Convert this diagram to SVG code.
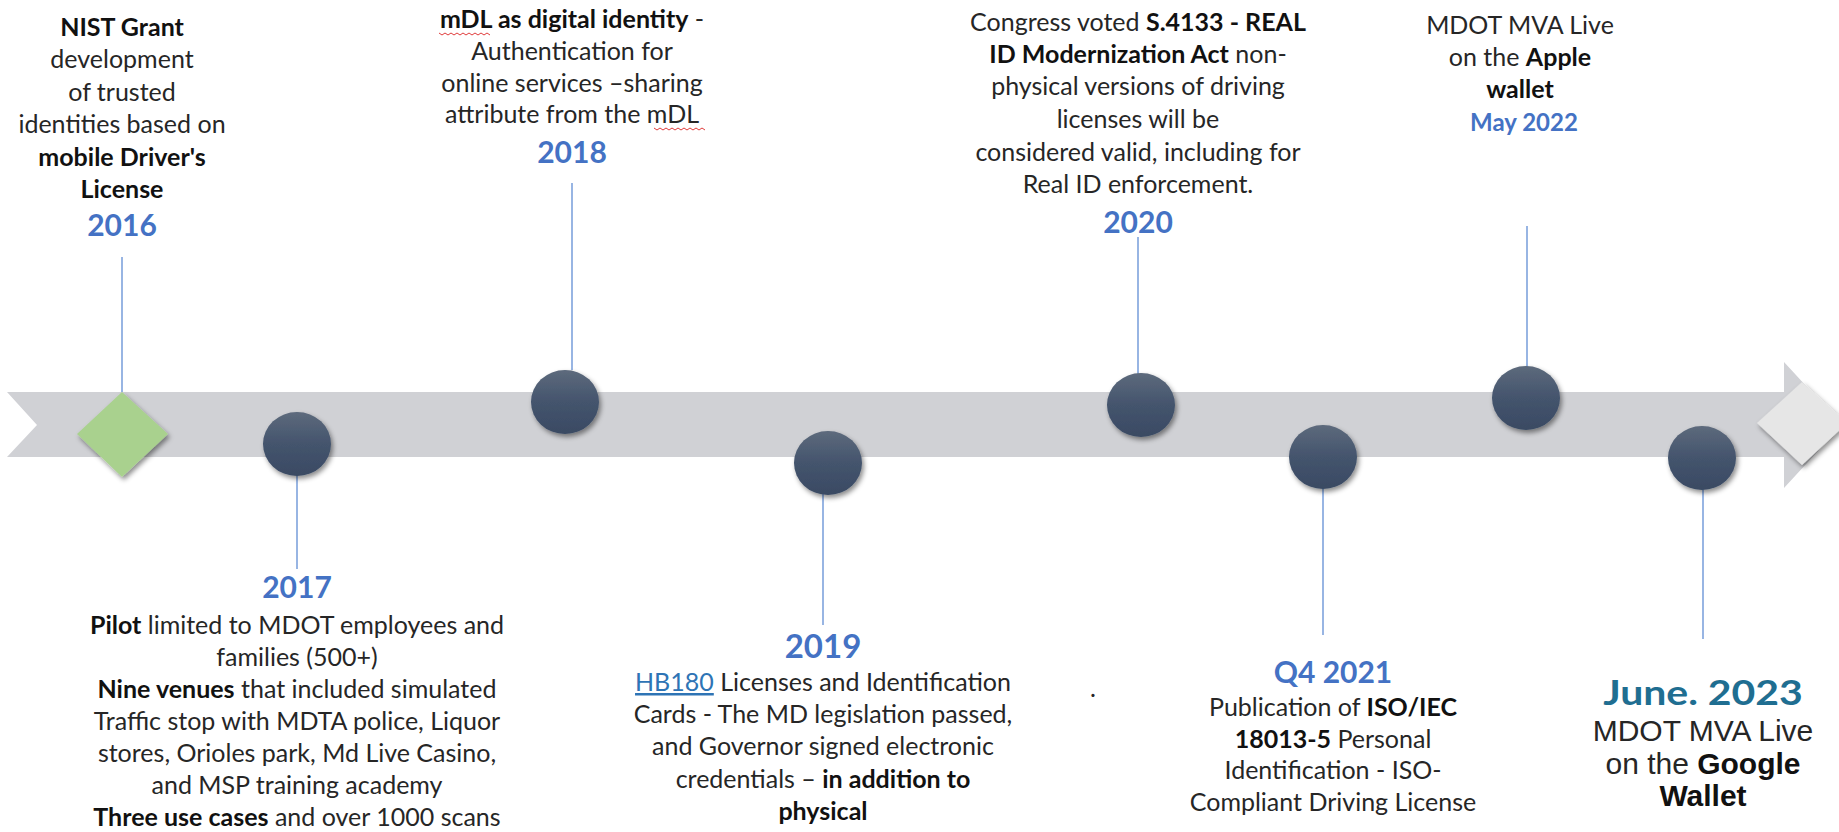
<svg xmlns="http://www.w3.org/2000/svg" width="1839" height="832" viewBox="0 0 1839 832">
<defs>
<linearGradient id="ball" x1="0" y1="0" x2="0" y2="1">
<stop offset="0" stop-color="#5D6A7C"/>
<stop offset="0.5" stop-color="#44546D"/>
<stop offset="1" stop-color="#3A4A63"/>
</linearGradient>
<filter id="sh" x="-30%" y="-30%" width="170%" height="170%">
<feDropShadow dx="2" dy="3" stdDeviation="2.5" flood-color="#000" flood-opacity="0.45"/>
</filter>
</defs>
<style>
.band{fill:#D0D1D5}
.ball{fill:url(#ball);filter:url(#sh)}
.conn{stroke:#86A8DE;stroke-width:1.7;fill:none}
.t{font-family:Lato,"Open Sans",sans-serif;font-size:25px;fill:#262626;text-anchor:middle}
.b{font-weight:bold;fill:#111}
.yr{font-family:Lato,"Open Sans",sans-serif;font-size:30px;font-weight:bold;fill:#4472C4;text-anchor:middle}
.a{font-family:"Liberation Sans",Arial,sans-serif;font-size:30px;fill:#262626;text-anchor:middle}
.sq{stroke:#E03C3C;stroke-width:1;fill:none}
</style>
<rect width="1839" height="832" fill="#FFFFFF"/>
<g id="band">
<polygon class="band" points="7,392 1784,392 1784,362 1842,425 1784,488 1784,457 7,457 37,425"/>
</g>
<g id="connectors">
<line class="conn" x1="122" y1="257" x2="122" y2="392"/>
<line class="conn" x1="572" y1="183" x2="572" y2="370"/>
<line class="conn" x1="1138" y1="237" x2="1138" y2="376"/>
<line class="conn" x1="1527" y1="226" x2="1527" y2="368"/>
<line class="conn" x1="297" y1="470" x2="297" y2="569"/>
<line class="conn" x1="823" y1="488" x2="823" y2="625"/>
<line class="conn" x1="1323" y1="482" x2="1323" y2="635"/>
<line class="conn" x1="1703" y1="486" x2="1703" y2="639"/>
</g>
<g id="node-2016">
<polygon points="122,392 168,434 122,477 77,434" fill="#A9D18E" filter="url(#sh)"/>
<text class="t"><tspan class="b" x="122" y="36">NIST Grant</tspan><tspan x="122" y="68">development</tspan><tspan x="122" y="101">of trusted</tspan><tspan x="122" y="133">identities based on</tspan><tspan class="b" x="122" y="166">mobile Driver's</tspan><tspan class="b" x="122" y="198">License</tspan></text>
<text class="yr" x="122" y="236">2016</text>
</g>
<g id="node-2017">
<ellipse class="ball" cx="297" cy="444" rx="34" ry="32"/>
<text class="yr" x="297" y="598">2017</text>
<text class="t"><tspan x="297" y="634"><tspan class="b">Pilot</tspan> limited to MDOT employees and</tspan><tspan x="297" y="666">families (500+)</tspan><tspan x="297" y="698"><tspan class="b">Nine venues</tspan> that included simulated</tspan><tspan x="297" y="730">Traffic stop with MDTA police, Liquor</tspan><tspan x="297" y="762">stores, Orioles park, Md Live Casino,</tspan><tspan x="297" y="794">and MSP training academy</tspan><tspan x="297" y="826"><tspan class="b">Three use cases</tspan> and over 1000 scans</tspan></text>
</g>
<g id="node-2018">
<ellipse class="ball" cx="565" cy="402" rx="34" ry="32"/>
<text class="t"><tspan x="572" y="28"><tspan class="b">mDL as digital identity</tspan> -</tspan><tspan x="572" y="60">Authentication for</tspan><tspan x="572" y="92">online services –sharing</tspan><tspan x="572" y="123">attribute from the mDL</tspan></text>
<path class="sq" d="M439,33 l3,2 l3,-2 l3,2 l3,-2 l3,2 l3,-2 l3,2 l3,-2 l3,2 l3,-2 l3,2 l3,-2 l3,2 l3,-2 l3,2 l3,-2 l3,2"/>
<path class="sq" d="M654,128 l3,2 l3,-2 l3,2 l3,-2 l3,2 l3,-2 l3,2 l3,-2 l3,2 l3,-2 l3,2 l3,-2 l3,2 l3,-2 l3,2 l3,-2 l3,2"/>
<text class="yr" x="572" y="163">2018</text>
</g>
<g id="node-2019">
<ellipse class="ball" cx="828" cy="463" rx="34" ry="32"/>
<text class="yr" x="823" y="658" style="font-size:33px">2019</text>
<text class="t"><tspan x="823" y="691"><tspan fill="#2E74B5" text-decoration="underline">HB180</tspan> Licenses and Identification</tspan><tspan x="823" y="723">Cards - The MD legislation passed,</tspan><tspan x="823" y="755">and Governor signed electronic</tspan><tspan x="823" y="788">credentials – <tspan class="b">in addition to</tspan></tspan><tspan class="b" x="823" y="820">physical</tspan></text>
<text class="t" x="1093" y="697" fill="#555">.</text>
</g>
<g id="node-2020">
<ellipse class="ball" cx="1141" cy="405" rx="34" ry="32"/>
<text class="t"><tspan x="1138" y="31">Congress voted <tspan class="b">S.4133 - REAL</tspan></tspan><tspan x="1138" y="63"><tspan class="b">ID Modernization Act</tspan> non-</tspan><tspan x="1138" y="95">physical versions of driving</tspan><tspan x="1138" y="128">licenses will be</tspan><tspan x="1138" y="161">considered valid, including for</tspan><tspan x="1138" y="193">Real ID enforcement.</tspan></text>
<text class="yr" x="1138" y="233">2020</text>
</g>
<g id="node-q4-2021">
<ellipse class="ball" cx="1323" cy="457" rx="34" ry="32"/>
<text class="yr" x="1333" y="683">Q4 2021</text>
<text class="t"><tspan x="1333" y="716">Publication of <tspan class="b">ISO/IEC</tspan></tspan><tspan x="1333" y="748"><tspan class="b">18013-5</tspan> Personal</tspan><tspan x="1333" y="779">Identification - ISO-</tspan><tspan x="1333" y="811">Compliant Driving License</tspan></text>
</g>
<g id="node-may-2022">
<ellipse class="ball" cx="1526" cy="398" rx="34" ry="32"/>
<text class="t"><tspan x="1520" y="34">MDOT MVA Live</tspan><tspan x="1520" y="66">on the <tspan class="b">Apple</tspan></tspan><tspan class="b" x="1520" y="98">wallet</tspan></text>
<text class="yr" x="1524" y="131" style="font-size:24px">May 2022</text>
</g>
<g id="node-june-2023">
<ellipse class="ball" cx="1702" cy="458" rx="34" ry="32"/>
<text class="yr" x="0" y="0" transform="translate(1703,705) scale(1.17,1)" style="fill:#1F6E91;font-size:35px">June. 2023</text>
<text class="a"><tspan x="1703" y="741">MDOT MVA Live</tspan><tspan x="1703" y="774">on the <tspan font-weight="bold" fill="#111">Google</tspan></tspan><tspan font-weight="bold" fill="#111" x="1703" y="806">Wallet</tspan></text>
</g>
<g id="node-end">
<polygon points="1802,382 1847,423 1802,465 1757,423" fill="#E6E6E6" filter="url(#sh)"/>
</g>
</svg>
